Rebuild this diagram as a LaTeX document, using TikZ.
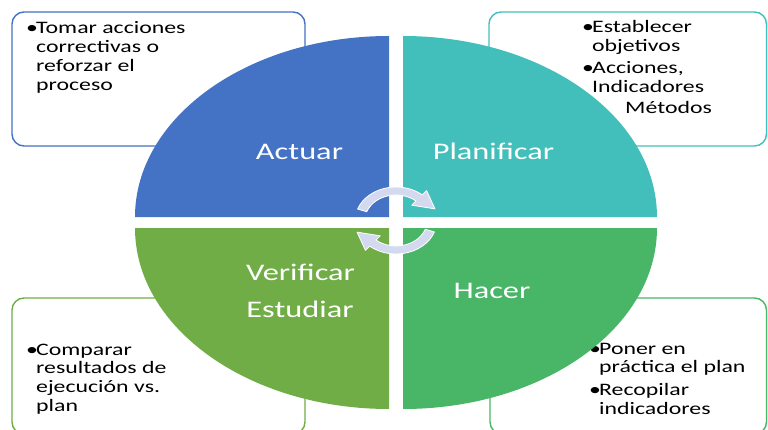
\documentclass[tikz,border=0pt]{standalone}
\usepackage{fontspec}
\setmainfont[FakeStretch=1.36]{Carlito}
\usetikzlibrary{calc}
\definecolor{colActuar}{HTML}{4472C4}
\definecolor{colPlan}{HTML}{43BFBB}
\definecolor{colVerif}{HTML}{70AD47}
\definecolor{colHacer}{HTML}{48B567}
\definecolor{colCiclo}{HTML}{D3DAEF}
\def\PieA{254}
\def\PieB{181}
\newcommand\pto{\makebox[10pt][l]{\textbullet}}
\newcommand\sig{\hspace*{10pt}}

\begin{document}
\begin{tikzpicture}[x=1pt,y=1pt,
	caja/.style={line width=1.4pt,rounded corners=12pt},
	texto/.style={anchor=base west,inner sep=0pt,font=\fontsize{17.5}{18.7}\selectfont},
	rotulo/.style={text=white,inner sep=0pt,anchor=base,font=\fontsize{23.8}{28}\selectfont},
	flecha/.style={fill=colCiclo,draw=white,line width=0.8pt,line join=round}]
	\useasboundingbox (0,0) rectangle (768,429);
	% 
	\coordinate (tl) at (389,212);
	\coordinate (tr) at (403,212);
	\coordinate (bl) at (389,201);
	\coordinate (br) at (403,201);
	\coordinate (ciclo) at (396,208.5);
	% boxes behind the pie
	\draw[caja,colActuar] (12,283) rectangle (305,417);
	\draw[caja,colPlan] (489,283) rectangle (766.5,417);
	\draw[caja,colVerif] (12,-5) rectangle (305,131);
	\draw[caja,colHacer] (490,-5) rectangle (766.5,131);
	% 
	\node[texto] (tActuar) at (26,395) {\parbox[t]{260pt}{\pto Tomar acciones\\\sig correctivas o\\\sig reforzar el\\\sig proceso}};
	\node[texto] (tPlan) at (582,396) {\parbox[t]{180pt}{\pto Establecer\\\sig objetivos\\[3.3pt]\pto Acciones,\\\sig Indicadores\\[2.3pt]\hspace*{43pt}Métodos}};
	\node[texto] (tVerif) at (26,74) {\parbox[t]{260pt}{\pto Comparar\\\sig resultados de\\\sig ejecución vs.\\\sig plan}};
	\node[texto] (tHacer) at (589,75) {\parbox[t]{175pt}{\pto Poner en\\\sig práctica el plan\\[4pt]\pto Recopilar\\\sig indicadores}};
	% the four quarters
	\fill[colActuar] (tl) -- ++(-\PieA,0) arc[start angle=180,end angle=90,x radius=\PieA,y radius=\PieB] -- cycle;
	\fill[colPlan] (tr) -- ++(0,\PieB) arc[start angle=90,end angle=0,x radius=\PieA,y radius=\PieB] -- cycle;
	\fill[colVerif] (bl) -- ++(-\PieA,0) arc[start angle=180,end angle=270,x radius=\PieA,y radius=\PieB] -- cycle;
	\fill[colHacer] (br) -- ++(\PieA,0) arc[start angle=0,end angle=-90,x radius=\PieA,y radius=\PieB] -- cycle;
	% 
	\node[rotulo] (actuar) at (299.5,269) {Actuar};
	\node[rotulo] (planificar) at (493.5,269) {Planificar};
	\node[rotulo] (verificar) at (300.5,149) {Verificar};
	\node[rotulo] (estudiar) at (300,112) {Estudiar};
	\node[rotulo] (hacer) at (492,131) {Hacer};
	% circular arrows
	\begin{scope}[shift={(ciclo)},xscale=1.22]
		\path[flecha] (160:33.5) arc[start angle=160,end angle=50,radius=33.5] -- (50:39) -- (20:34) -- (50:20) -- (50:25.5) arc[start angle=50,end angle=160,radius=25.5] -- cycle;
		\path[flecha] (-20:33.5) arc[start angle=-20,end angle=-130,radius=33.5] -- (-130:39) -- (-160:34) -- (-130:20) -- (-130:25.5) arc[start angle=-130,end angle=-20,radius=25.5] -- cycle;
	\end{scope}
\end{tikzpicture}
\end{document}
